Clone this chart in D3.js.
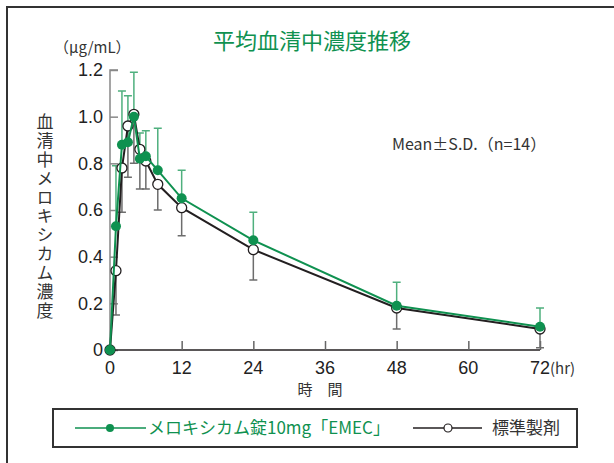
<!DOCTYPE html>
<html>
<head>
<meta charset="utf-8">
<script src="https://cdn.jsdelivr.net/npm/d3@7"></script>
<style>
  body { margin: 0; background: #fff; }
  svg { display: block; }
  .num { font-family: "Liberation Sans Narrow", "Arial Narrow", "Liberation Sans", sans-serif; }
  .jp { font-family: "Noto Sans CJK JP", sans-serif; }
</style>
</head>
<body>
<svg></svg>
<script>
const width = 614;
const height = 463;

// 時間 (hr)
const times = [0, 1, 2, 3, 4, 5, 6, 8, 12, 24, 48, 72];
// メロキシカム錠10mg「EMEC」
const emecMean = [0, 0.53, 0.88, 0.89, 1.00, 0.82, 0.83, 0.77, 0.65, 0.47, 0.19, 0.10];
const emecSD   = [0, 0.26, 0.23, 0.20, 0.19, 0.11, 0.11, 0.18, 0.12, 0.12, 0.10, 0.08];
// 標準製剤
const stdMean  = [0, 0.34, 0.78, 0.96, 1.01, 0.86, 0.81, 0.71, 0.61, 0.43, 0.18, 0.09];
const stdSD    = [0, 0.19, 0.19, 0.22, 0.21, 0.17, 0.12, 0.11, 0.12, 0.13, 0.09, 0.08];

const xTicks = [0, 12, 24, 36, 48, 60, 72];
const yTicks = [0, 0.2, 0.4, 0.6, 0.8, 1.0, 1.2];

const green = "#0f9150";
const greenBar = "#4fb07e";
const black = "#231f20";
const grayBar = "#6d6d6d";

const svg = d3.select("svg")
    .attr("width", width)
    .attr("height", height);

svg.append("rect").attr("width", width).attr("height", height).attr("fill", "#fff");

// 外枠（上と左）
svg.append("path")
    .attr("d", "M7,463 L7,7 L614,7")
    .attr("fill", "none")
    .attr("stroke", "#333")
    .attr("stroke-width", 2);

const x = d3.scaleLinear().domain([0, 72]).range([110, 540]);
const y = d3.scaleLinear().domain([0, 1.2]).range([350, 70]);

// タイトル
svg.append("text")
    .attr("class", "jp")
    .attr("x", 312).attr("y", 49)
    .attr("text-anchor", "middle")
    .attr("font-size", 22)
    .attr("fill", green)
    .text("平均血清中濃度推移");

// 単位
svg.append("text")
    .attr("class", "jp")
    .attr("x", 54).attr("y", 53)
    .attr("font-size", 15)
    .attr("fill", "#333")
    .text("（μg/mL）");

// y軸ラベル（縦書き）
svg.append("text")
    .attr("class", "jp")
    .attr("x", 45).attr("y", 113)
    .style("writing-mode", "vertical-rl")
    .attr("letter-spacing", 1.9)
    .attr("font-size", 17)
    .attr("fill", "#333")
    .text("血清中メロキシカム濃度");

// y軸
const yAxis = svg.append("g")
    .attr("transform", `translate(${x(0)},0)`)
    .call(d3.axisRight(y).tickValues(yTicks).tickSize(8).tickFormat(""));
yAxis.select(".domain").attr("stroke", "#888").attr("stroke-width", 1.5).attr("d", `M8,${y(1.2)}H0V${y(0)}`);
yAxis.selectAll(".tick line").attr("stroke", "#888").attr("stroke-width", 1.5);

svg.append("g").attr("class", "num")
    .selectAll("text")
    .data(yTicks)
    .enter().append("text")
    .attr("x", 103)
    .attr("y", d => y(d))
    .attr("dy", "0.36em")
    .attr("text-anchor", "end")
    .attr("font-size", 18)
    .attr("fill", "#222")
    .text(d => d === 0 ? "0" : d.toFixed(1));

// x軸
const xAxis = svg.append("g")
    .attr("transform", `translate(0,${y(0)})`)
    .call(d3.axisTop(x).tickValues(xTicks.slice(1)).tickSize(9).tickFormat(""));
xAxis.select(".domain").attr("stroke", black).attr("stroke-width", 1.5).attr("d", `M${x(0)},0H${x(72)}`);
xAxis.selectAll(".tick line").attr("stroke", "#666").attr("stroke-width", 1.5);

svg.append("g").attr("class", "num")
    .selectAll("text")
    .data(xTicks)
    .enter().append("text")
    .attr("x", d => x(d))
    .attr("y", 374)
    .attr("text-anchor", "middle")
    .attr("font-size", 18)
    .attr("fill", "#222")
    .text(d => d);

svg.append("text")
    .attr("class", "jp")
    .attr("x", 550).attr("y", 374)
    .attr("font-size", 15)
    .attr("fill", "#333")
    .text("(hr)");

svg.append("text")
    .attr("class", "jp")
    .attr("x", 320).attr("y", 395)
    .attr("text-anchor", "middle")
    .attr("font-size", 15)
    .attr("fill", "#333")
    .text("時　間");

svg.append("text")
    .attr("class", "jp")
    .attr("x", 392).attr("y", 150)
    .attr("font-size", 16)
    .attr("fill", "#333")
    .text("Mean±S.D.（n=14）");

// 誤差棒
const stdRows = times.map((t, i) => ({t, m: stdMean[i], sd: stdSD[i]})).filter(d => d.sd > 0);
const emecRows = times.map((t, i) => ({t, m: emecMean[i], sd: emecSD[i]})).filter(d => d.sd > 0);

const stdBars = svg.append("g").attr("stroke", grayBar).attr("stroke-width", 1.5).attr("fill", "none");
stdBars.selectAll("path")
    .data(stdRows)
    .enter().append("path")
    .attr("d", d => `M${x(d.t)},${y(d.m)}V${y(d.m - d.sd)}M${x(d.t) - 4},${y(d.m - d.sd)}H${x(d.t) + 4}`);

const emecBars = svg.append("g").attr("stroke", greenBar).attr("stroke-width", 1.5).attr("fill", "none");
emecBars.selectAll("path")
    .data(emecRows)
    .enter().append("path")
    .attr("d", d => `M${x(d.t)},${y(d.m)}V${y(d.m + d.sd)}M${x(d.t) - 4},${y(d.m + d.sd)}H${x(d.t) + 4}`);

// 線
const line = d3.line().x(d => x(d[0])).y(d => y(d[1]));

svg.append("path")
    .datum(times.map((t, i) => [t, stdMean[i]]))
    .attr("fill", "none").attr("stroke", black).attr("stroke-width", 2)
    .attr("d", line);

svg.append("g").selectAll("circle")
    .data(times.map((t, i) => [t, stdMean[i]]))
    .enter().append("circle")
    .attr("cx", d => x(d[0])).attr("cy", d => y(d[1]))
    .attr("r", 5)
    .attr("fill", "#fff").attr("stroke", black).attr("stroke-width", 1.3);

svg.append("path")
    .datum(times.map((t, i) => [t, emecMean[i]]))
    .attr("fill", "none").attr("stroke", green).attr("stroke-width", 2)
    .attr("d", line);

svg.append("g").selectAll("circle")
    .data(times.map((t, i) => [t, emecMean[i]]))
    .enter().append("circle")
    .attr("cx", d => x(d[0])).attr("cy", d => y(d[1]))
    .attr("r", 5)
    .attr("fill", green);

// 凡例
svg.append("rect")
    .attr("x", 53).attr("y", 409)
    .attr("width", 524).attr("height", 38)
    .attr("fill", "#fff")
    .attr("stroke", "#333").attr("stroke-width", 2);

const legend = svg.append("g");
legend.append("line").attr("x1", 75).attr("x2", 146).attr("y1", 428).attr("y2", 428)
    .attr("stroke", green).attr("stroke-width", 1.5);
legend.append("circle").attr("cx", 110).attr("cy", 428).attr("r", 4).attr("fill", green);
legend.append("text")
    .attr("class", "jp")
    .attr("x", 148).attr("y", 428)
    .attr("dy", "0.35em")
    .attr("font-size", 17)
    .attr("fill", green)
    .text("メロキシカム錠10mg「EMEC」");

legend.append("line").attr("x1", 413).attr("x2", 482).attr("y1", 428).attr("y2", 428)
    .attr("stroke", black).attr("stroke-width", 1.5);
legend.append("circle").attr("cx", 448).attr("cy", 428).attr("r", 4)
    .attr("fill", "#fff").attr("stroke", black).attr("stroke-width", 1.2);
legend.append("text")
    .attr("class", "jp")
    .attr("x", 492).attr("y", 428)
    .attr("dy", "0.35em")
    .attr("font-size", 17)
    .attr("fill", "#333")
    .text("標準製剤");
</script>
</body>
</html>
